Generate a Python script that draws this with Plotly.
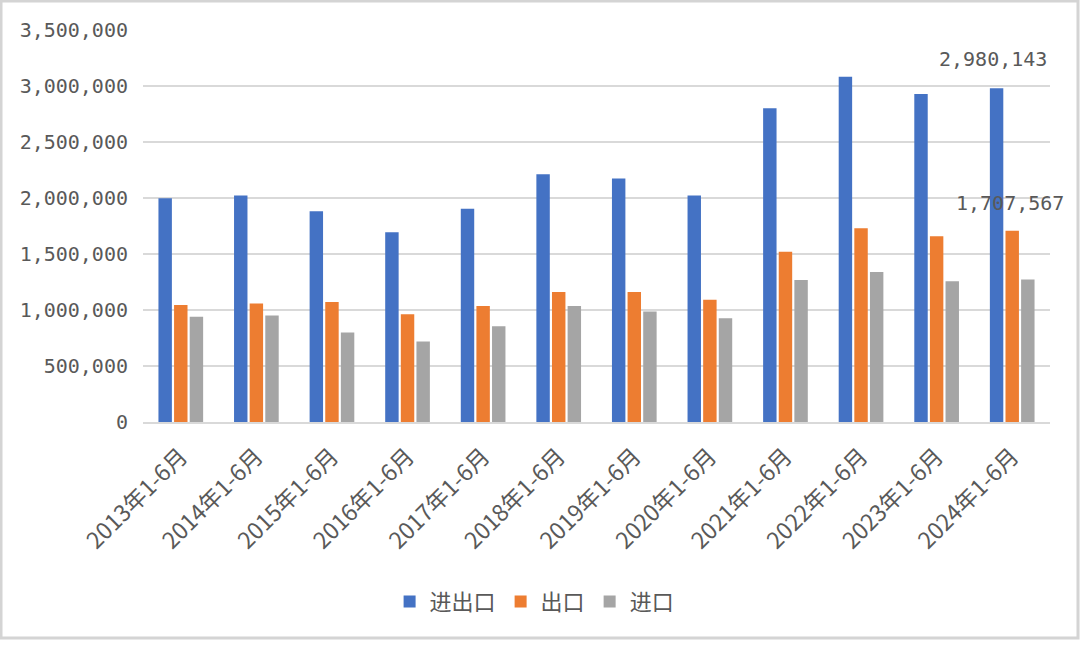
import plotly.graph_objects as go

categories = ["2013年1-6月", "2014年1-6月", "2015年1-6月", "2016年1-6月",
              "2017年1-6月", "2018年1-6月", "2019年1-6月", "2020年1-6月",
              "2021年1-6月", "2022年1-6月", "2023年1-6月", "2024年1-6月"]
total = [1998000, 2022000, 1882000, 1694000, 1903000, 2211000,
         2175000, 2022000, 2801000, 3082000, 2929000, 2980143]
exports = [1044000, 1059000, 1071000, 963000, 1035000, 1161000,
           1161000, 1092000, 1520000, 1730000, 1658000, 1707567]
imports = [940000, 951000, 799000, 718000, 856000, 1035000,
           987000, 927000, 1268000, 1340000, 1257000, 1272576]
series_names = ["进出口", "出口", "进口"]
colors = ["#4472C4", "#ED7D31", "#A5A5A5"]
yticks = [0, 500000, 1000000, 1500000, 2000000, 2500000, 3000000, 3500000]

fig = go.Figure()
for name, vals, col in zip(series_names, [total, exports, imports], colors):
    fig.add_trace(go.Bar(x=categories, y=vals, name=name, marker_color=col,
                         marker_line_width=0))

tick_font = dict(family="DejaVu Sans Mono", size=20, color="#595959")
fig.update_layout(
    width=1080, height=645,
    margin=dict(l=143, r=30, t=30, b=223, autoexpand=False),
    paper_bgcolor="white", plot_bgcolor="white",
    barmode="group", bargap=0.38, bargroupgap=0.14,
    showlegend=True,
    legend=dict(orientation="h", xref="container", yref="container",
                x=0.495, xanchor="center", y=0.067, yanchor="middle",
                font=dict(family="Noto Sans CJK SC", size=22, color="#595959"),
                itemwidth=30, traceorder="normal"),
    xaxis=dict(tickangle=-45, showgrid=False, showline=True, automargin=False,
               range=[-0.5, len(categories) - 0.5], autorange=False,
               linecolor="#D9D9D9", linewidth=1.5, ticks="",
               ticklabelstandoff=10,
               tickfont=dict(family="Noto Sans CJK SC", size=23, color="#595959")),
    yaxis=dict(range=[0, 3500000], tickvals=yticks, automargin=False,
               ticktext=[f"{v:,}" for v in yticks],
               showgrid=True, gridcolor="#D9D9D9", gridwidth=1.5,
               zeroline=False, showline=False, ticks="",
               ticklabelstandoff=14, tickfont=tick_font),
)

# data labels for the last category
fig.add_annotation(x=categories[-1], y=total[-1], text=f"{total[-1]:,}",
                   showarrow=False, xshift=-19, yanchor="bottom", yshift=15,
                   font=tick_font)
fig.add_annotation(x=categories[-1], y=exports[-1], text=f"{exports[-1]:,}",
                   showarrow=False, xshift=-2, yanchor="bottom", yshift=14,
                   font=tick_font)

# outer frame
fig.add_shape(type="rect", xref="paper", yref="paper",
              x0=-142/907, x1=1+28/907, y0=-(223-7)/392, y1=1+29/392,
              line=dict(color="#D4D4D4", width=3), fillcolor="rgba(0,0,0,0)",
              layer="below")

fig.write_html("out.html", config={"displayModeBar": False},
               post_script="document.body.style.margin='0';document.body.style.overflow='hidden';")
